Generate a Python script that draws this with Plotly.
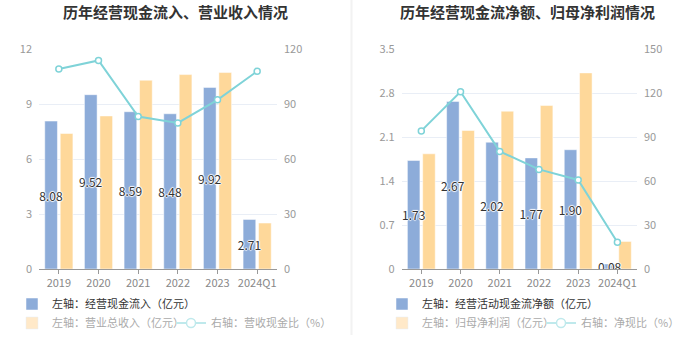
import plotly.graph_objects as go

categories = ["2019", "2020", "2021", "2022", "2023", "2024Q1"]

# Left chart
cash_inflow = [8.08, 9.52, 8.59, 8.48, 9.92, 2.71]
revenue = [7.40, 8.36, 10.31, 10.62, 10.73, 2.51]
cash_rev_ratio = [109.2, 113.9, 83.3, 79.8, 92.4, 108.0]

# Right chart
op_cash_net = [1.73, 2.67, 2.02, 1.77, 1.90, 0.08]
net_profit = [1.835, 2.206, 2.514, 2.604, 3.124, 0.44]
cash_profit_ratio = [94.3, 121.0, 80.3, 68.0, 60.8, 18.2]

left_title = "历年经营现金流入、营业收入情况"
right_title = "历年经营现金流净额、归母净利润情况"
left_names = ["左轴：经营现金流入（亿元）", "左轴：营业总收入（亿元）", "右轴：营收现金比（%）"]
right_names = ["左轴：经营活动现金流净额（亿元）", "左轴：归母净利润（亿元）", "右轴：净现比（%）"]

BLUE = "#8dacd9"
ORANGE = "#fed89a"
TEAL = "#7fd3d8"
ORANGE_L = "#ffe9c9"
TEAL_L = "#bfe9ec"
FONT = "Noto Sans CJK SC"
SHADOW = "1px 0px 1px #fff, -1px 0px 1px #fff, 0px 1px 1px #fff, 0px -1px 1px #fff"

W, H = 700, 360

fig = go.Figure()


def add_chart(xa, ya, ya2, blue, orange, ratio, names, legs):
    fig.add_trace(go.Bar(
        x=categories, y=blue, xaxis=xa, yaxis=ya, name=names[0],
        marker=dict(color=BLUE, line=dict(color="#ffffff", width=0.5)),
        offsetgroup="a", legend=legs[0], hoverinfo="skip"))
    fig.add_trace(go.Bar(
        x=categories, y=orange, xaxis=xa, yaxis=ya, name=names[1],
        marker=dict(color=ORANGE, line=dict(color="#ffffff", width=0.5)),
        offsetgroup="b", showlegend=False, hoverinfo="skip"))
    # value labels of the blue bars, drawn above the orange bars
    fig.add_trace(go.Bar(
        x=categories, y=blue, xaxis=xa, yaxis=ya, name=names[0],
        marker=dict(color="rgba(0,0,0,0)", line=dict(width=0)),
        offsetgroup="a", text=[f"{v:.2f}" for v in blue],
        textposition="inside", insidetextanchor="middle", textangle=0,
        textfont=dict(color="#333333", size=12, family=FONT, shadow=SHADOW),
        showlegend=False, hoverinfo="skip"))
    fig.add_trace(go.Scatter(
        x=categories, y=ratio, xaxis=xa, yaxis=ya2, name=names[2],
        mode="lines+markers", line=dict(color=TEAL, width=2),
        marker=dict(symbol="circle", size=6, color="#ffffff",
                    line=dict(color=TEAL, width=1.5)),
        showlegend=False, hoverinfo="skip"))
    # legend-only entries (faded style)
    fig.add_trace(go.Bar(
        x=[None], y=[None], xaxis=xa, yaxis=ya, name=names[1],
        marker=dict(color=ORANGE_L), offsetgroup="b", legend=legs[1]))
    fig.add_trace(go.Scatter(
        x=[None], y=[None], xaxis=xa, yaxis=ya2, name=names[2],
        mode="lines+markers", line=dict(color=TEAL_L, width=2),
        marker=dict(symbol="circle", size=9, color="#ffffff",
                    line=dict(color=TEAL_L, width=1.5)),
        legend=legs[2]))


add_chart("x", "y", "y2", cash_inflow, revenue, cash_rev_ratio, left_names,
          ["legend", "legend2", "legend3"])
add_chart("x2", "y3", "y4", op_cash_net, net_profit, cash_profit_ratio, right_names,
          ["legend4", "legend5", "legend6"])

y_dom = [1 - 269 / H, 1 - 49.3 / H]
tickfont = dict(size=11, color="#999999", family=FONT)
grid = "#e9eef6"


def xaxis(dom, anchor):
    return dict(domain=dom, anchor=anchor, type="category", showgrid=False,
                showline=True, linecolor="#999999", linewidth=1,
                ticks="outside", ticklen=4, tickcolor="#999999",
                tickfont=dict(size=11, color="#888888", family=FONT), fixedrange=True)


def yaxis(rng, dtick, anchor, side="left", overlay=None):
    d = dict(domain=y_dom, anchor=anchor, range=rng, dtick=dtick, side=side,
             showgrid=(side == "left"), gridcolor=grid, gridwidth=1,
             zeroline=False, showline=False, ticks="", tickfont=tickfont,
             ticklabelstandoff=6, fixedrange=True)
    if overlay:
        d["overlaying"] = overlay
        d["showgrid"] = False
    return d


layout = dict(
    width=W, height=H, margin=dict(l=0, r=0, t=0, b=0, autoexpand=False),
    paper_bgcolor="#ffffff", plot_bgcolor="#ffffff",
    barmode="group", bargap=0.22, bargroupgap=0.18,
    uniformtext=dict(minsize=11, mode="show"),
    font=dict(family=FONT),
    xaxis=xaxis([39 / W, 277 / W], "y"),
    yaxis=yaxis([0, 12], 3, "x"),
    yaxis2=yaxis([0, 120], 30, "x", side="right", overlay="y"),
    xaxis2=xaxis([401.7 / W, 637 / W], "y3"),
    yaxis3=yaxis([0, 3.5], 0.7, "x2"),
    yaxis4=yaxis([0, 150], 30, "x2", side="right", overlay="y3"),
    shapes=[dict(type="line", xref="paper", yref="paper", x0=351.5 / W, x1=351.5 / W,
                 y0=1 - 335 / H, y1=1, line=dict(color="#f2f2f2", width=2))],
    annotations=[
        dict(text=f"<b>{left_title}</b>", xref="paper", yref="paper", x=175 / W,
             y=1 - 12 / H, xanchor="center", yanchor="middle", showarrow=False,
             font=dict(size=15, color="#333333", family=FONT)),
        dict(text=f"<b>{right_title}</b>", xref="paper", yref="paper", x=527 / W,
             y=1 - 12 / H, xanchor="center", yanchor="middle", showarrow=False,
             font=dict(size=15, color="#333333", family=FONT)),
    ],
)


def legend(x, y, color):
    return dict(x=x / W, y=1 - y / H, xanchor="left", yanchor="middle",
                orientation="h", bgcolor="rgba(0,0,0,0)", itemwidth=30,
                font=dict(size=11, color=color, family=FONT), tracegroupgap=0)


layout["legend"] = legend(12, 304, "#333333")
layout["legend2"] = legend(12, 323, "#aaaaaa")
layout["legend3"] = legend(171, 323, "#aaaaaa")
layout["legend4"] = legend(382, 304, "#333333")
layout["legend5"] = legend(382, 323, "#aaaaaa")
layout["legend6"] = legend(541, 323, "#aaaaaa")

fig.update_layout(**layout)
fig.write_html("out.html", config={"displayModeBar": False},
               post_script="document.body.style.margin='0px';")
